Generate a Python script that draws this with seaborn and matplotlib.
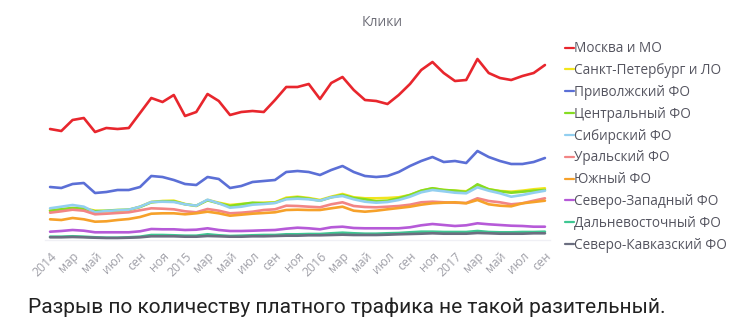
import matplotlib
matplotlib.use("Agg")
import matplotlib.pyplot as plt
import seaborn as sns
import pandas as pd

# Monthly data, Jan 2014 .. Sep 2017 (arbitrary click units)
months = list(range(45))
tick_labels = ["2014", "мар", "май", "июл", "сен", "ноя",
               "2015", "мар", "май", "июл", "сен", "ноя",
               "2016", "мар", "май", "июл", "сен", "ноя",
               "2017", "мар", "май", "июл", "сен"]

moscow = [111, 109, 120, 122, 108, 112, 111, 112, 127, 142, 138, 145, 124, 128, 146,
          139, 125, 128, 129, 128, 140, 153, 153, 156, 141, 157, 163, 150, 140, 139,
          136, 145, 156, 170, 178, 167, 159, 160, 181, 167, 162, 160, 164, 167, 175]
privolzh = [53, 52, 56, 57, 47, 48, 50, 50, 53, 64, 63, 60, 56, 55, 63,
            61, 52, 54, 58, 59, 60, 68, 69, 68, 65, 70, 74, 68, 64, 63,
            64, 68, 74, 79, 83, 78, 79, 77, 89, 83, 79, 76, 76, 78, 82]
# the lower series: values stored as picture offsets (py) converted below
spb_py = [122, 118, 116, 115, 122, 124, 122, 120, 110, 96, 93, 92, 102, 108, 90,
          98, 105, 102, 100, 98, 97, 83, 80, 84, 90, 80, 72, 82, 85, 85,
          84, 82, 75, 62, 55, 60, 62, 64, 46, 58, 63, 65, 62, 58, 55]
central_py = [122, 118, 114, 116, 124, 122, 120, 119, 111, 97, 94, 94, 103, 107, 91,
              100, 108, 103, 98, 100, 98, 86, 82, 86, 92, 82, 75, 84, 88, 94,
              92, 85, 75, 62, 55, 60, 62, 66, 43, 58, 64, 68, 65, 62, 60]
siberia_py = [115, 110, 105, 110, 127, 123, 121, 119, 110, 96, 95, 96, 103, 107, 89,
              100, 113, 110, 104, 102, 99, 88, 86, 88, 92, 82, 78, 88, 95, 98,
              96, 90, 80, 67, 60, 64, 68, 70, 52, 62, 70, 80, 75, 68, 62]
ural_py = [128, 124, 119, 122, 133, 131, 129, 127, 121, 115, 116, 118, 124, 127, 117,
           122, 130, 128, 125, 120, 118, 107, 108, 110, 112, 103, 97, 108, 111, 112,
           110, 108, 104, 97, 95, 97, 98, 99, 85, 93, 97, 103, 100, 92, 85]
south_py = [148, 150, 144, 148, 155, 154, 150, 147, 141, 131, 130, 130, 133, 130, 125,
            130, 137, 134, 131, 129, 127, 120, 119, 120, 120, 115, 110, 122, 125, 122,
            118, 114, 110, 104, 100, 98, 97, 100, 90, 103, 107, 109, 100, 96, 92]
northwest_py = [185, 183, 180, 182, 187, 187, 187, 187, 184, 177, 178, 178, 180, 179, 175,
                180, 183, 183, 182, 181, 180, 176, 173, 175, 178, 172, 170, 174, 175, 175,
                175, 175, 172, 166, 162, 165, 168, 166, 160, 163, 165, 167, 168, 170, 170]
fareast_py = [200, 200, 199, 200, 202, 203, 203, 202, 200, 195, 195, 196, 197, 197, 193,
              196, 198, 197, 196, 195, 195, 193, 193, 192, 192, 190, 188, 190, 191, 191,
              190, 189, 187, 185, 185, 186, 186, 186, 183, 186, 187, 187, 186, 186, 185]
ncaucasus_py = [202, 202, 201, 202, 203, 204, 204, 203, 202, 199, 199, 199, 200, 200, 198,
                199, 200, 200, 199, 199, 198, 197, 197, 196, 196, 195, 194, 195, 195, 195,
                194, 193, 192, 191, 190, 191, 191, 191, 189, 190, 191, 191, 191, 190, 190]


def from_py(vals):
    return [round(70 - v / 3, 1) for v in vals]


series_names = ["Москва и МО", "Санкт-Петербург и ЛО", "Приволжский ФО", "Центральный ФО",
                "Сибирский ФО", "Уральский ФО", "Южный ФО", "Северо-Западный ФО",
                "Дальневосточный ФО", "Северо-Кавказский ФО"]
series_values = [moscow, from_py(spb_py), privolzh, from_py(central_py), from_py(siberia_py),
                 from_py(ural_py), from_py(south_py), from_py(northwest_py),
                 from_py(fareast_py), from_py(ncaucasus_py)]
colors = ["#e8262d", "#f2e51c", "#5b6fd6", "#86dc22", "#92cff0",
          "#f28585", "#f6a12a", "#b65ad8", "#3ec792", "#6b6e80"]

rows = []
for name, vals in zip(series_names, series_values):
    for m, v in zip(months, vals):
        rows.append({"month": m, "region": name, "clicks": v})
df = pd.DataFrame(rows)

sns.set_theme(style="white")
plt.rcParams["font.family"] = ["Open Sans", "DejaVu Sans"]

fig = plt.figure(figsize=(7.54, 3.35), dpi=100)
ax = fig.add_axes([45 / 754, (335 - 240) / 335, 505 / 754, 185 / 335])

sns.lineplot(data=df, x="month", y="clicks", hue="region", hue_order=series_names,
             palette=dict(zip(series_names, colors)), linewidth=1.9, ax=ax, legend=False)
for ln in ax.get_lines():
    ln.set_solid_joinstyle("round")
    ln.set_solid_capstyle("round")

ax.set_xlim(-0.45, 44.45)
ax.set_ylim(0, 185)
for s in ["top", "right", "left"]:
    ax.spines[s].set_visible(False)
ax.spines["bottom"].set_color("#f0f0f5")
ax.spines["bottom"].set_linewidth(1.0)
ax.set_yticks([])
ax.set_xlabel("")
ax.set_ylabel("")
ax.set_xticks(list(range(0, 45, 2)))
ax.set_xticklabels(tick_labels, rotation=45, ha="right", rotation_mode="anchor",
                   color="#a0a0a8", fontsize=8.8)
ax.tick_params(axis="x", length=0, pad=7)

handles = [plt.Line2D([], [], color=c, linewidth=1.6) for c in colors]
leg = fig.legend(handles, series_names, loc="upper left", bbox_to_anchor=(560 / 754, 1 - 36 / 335),
                 frameon=False, handlelength=0.6, handletextpad=0.05, labelspacing=0.5,
                 fontsize=9.8, borderaxespad=0)
for t in leg.get_texts():
    t.set_color("#555560")

fig.text(382 / 754, 1 - 22 / 335, "Клики", ha="center", va="center", fontsize=10, color="#6e6e78")

fig.text(28 / 754, 1 - 307 / 335, "Разрыв по количеству платного трафика не такой разительный.",
         ha="left", va="center", fontsize=15, color="#222222",
         family=["Liberation Sans Narrow", "Roboto", "DejaVu Sans"])

fig.savefig("out.png", dpi=100, facecolor="white")
